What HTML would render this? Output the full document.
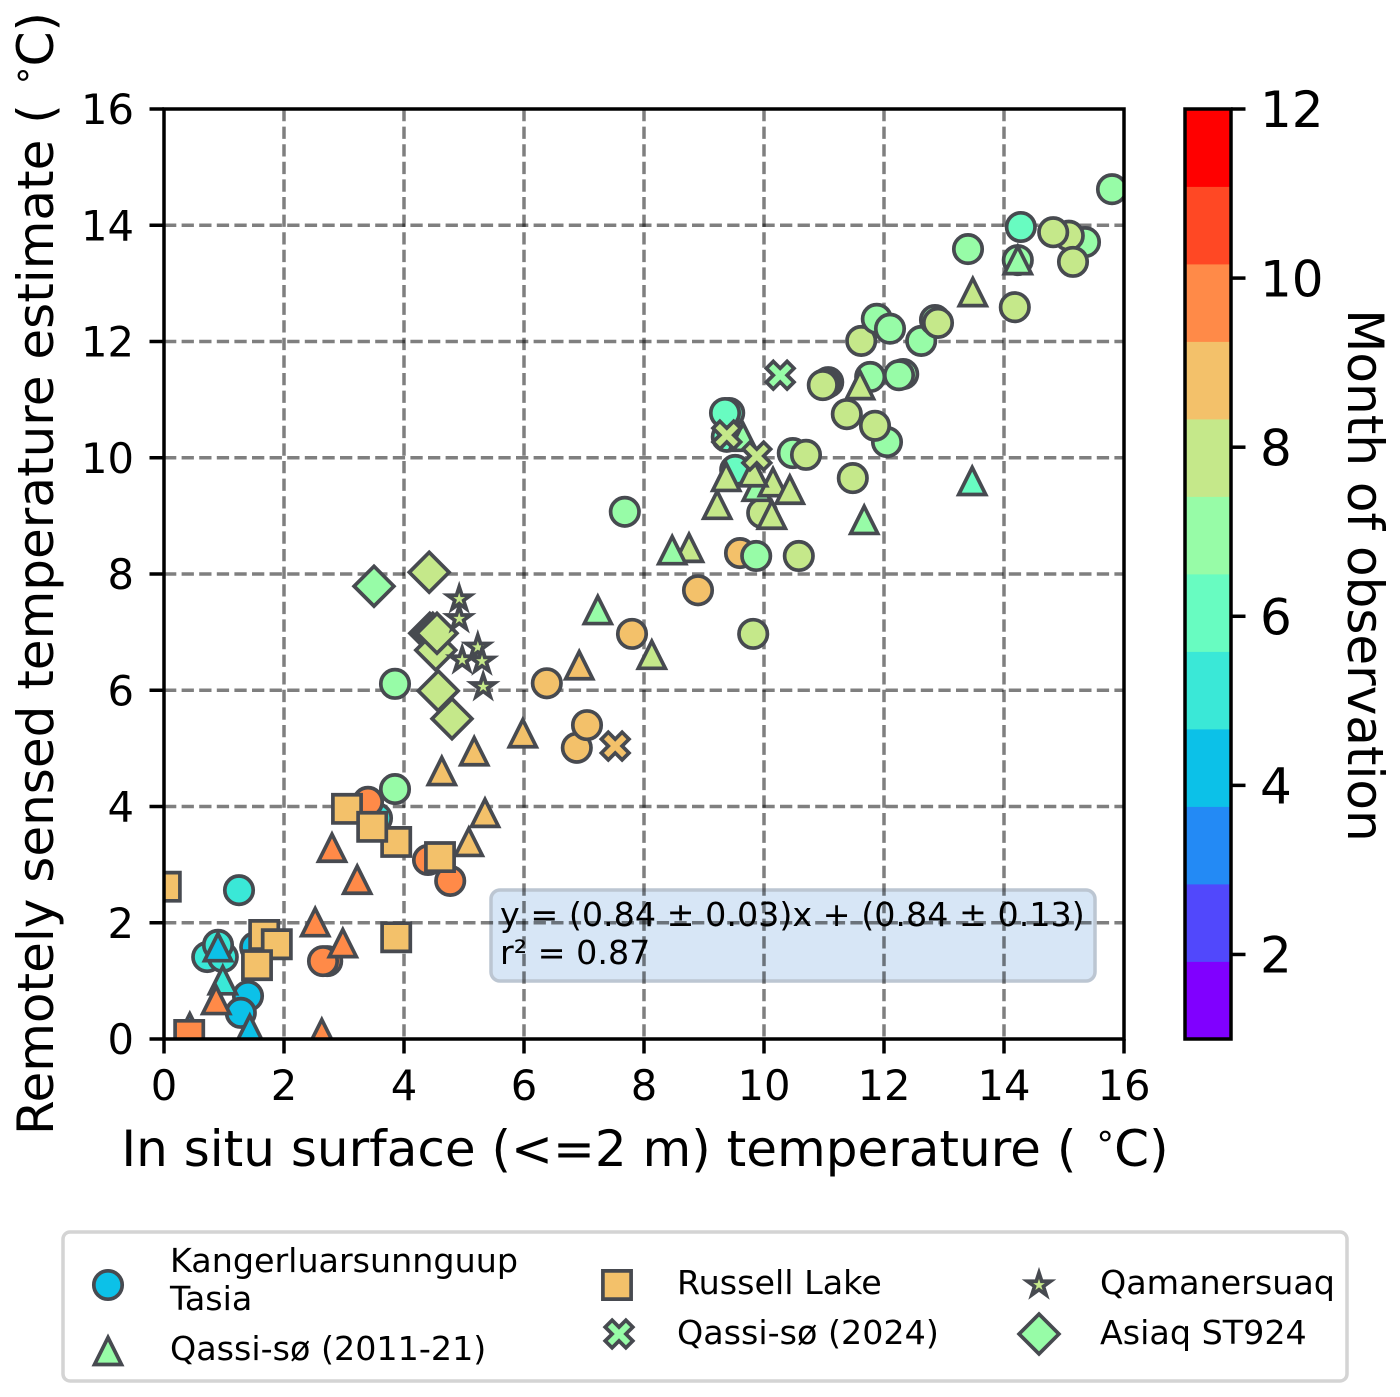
<!DOCTYPE html>
<html lang="en">
<head>
<meta charset="utf-8">
<title>Remotely sensed vs in situ surface temperature</title>
<style>
html,body{margin:0;padding:0;background:#fff;}
svg{display:block;}
text{font-family:"DejaVu Sans","Liberation Sans",sans-serif;fill:#000;}
</style>
</head>
<body>
<svg id="chart" xmlns="http://www.w3.org/2000/svg" width="1400" height="1397" viewBox="0 0 1400 1397">
  <defs>
    <clipPath id="plot-clip"><rect x="164" y="109" width="960" height="930"></rect></clipPath>
  </defs>
  <rect x="491" y="890" width="604" height="91" rx="9" ry="9" fill="#d7e6f6" stroke="#bcc6d2" stroke-width="3.5"></rect>
  <g id="grid"></g>
  <g id="marks" clip-path="url(#plot-clip)"></g>
  <rect x="164" y="109" width="960" height="930" fill="none" stroke="#000" stroke-width="3.5"></rect>
  <g id="x-axis"></g>
  <g id="y-axis"></g>
  <text x="500" y="926" font-size="33.33">y = (0.84 ± 0.03)x + (0.84 ± 0.13)</text>
  <text x="500" y="964" font-size="33.33">r² = 0.87</text>
  <text x="645" y="1166" font-size="50" text-anchor="middle">In situ surface (&lt;=2 m) temperature ( <tspan dy="-19" dx="2" font-size="35">∘</tspan><tspan dy="19" dx="-2">C)</tspan></text>
  <text transform="translate(53,573.5) rotate(-90)" font-size="50" text-anchor="middle">Remotely sensed temperature estimate ( <tspan dy="-19" dx="2" font-size="35">∘</tspan><tspan dy="19" dx="-2">C)</tspan></text>
  <g id="colorbar"></g>
  <text transform="translate(1348,575.5) rotate(90)" font-size="50" text-anchor="middle">Month of observation</text>
  <g id="legend">
    <rect x="63" y="1232" width="1284" height="149" rx="7" ry="7" fill="#fff" stroke="#d4d4d4" stroke-width="3.5"></rect>
    <text x="170" y="1272" font-size="33.33">Kangerluarsunnguup</text>
    <text x="170" y="1310" font-size="33.33">Tasia</text>
    <text x="170" y="1360" font-size="33.33">Qassi-sø (2011-21)</text>
    <text x="677" y="1294" font-size="33.33">Russell Lake</text>
    <text x="677" y="1344" font-size="33.33">Qassi-sø (2024)</text>
    <text x="1100" y="1294" font-size="33.33">Qamanersuaq</text>
    <text x="1100" y="1344" font-size="33.33">Asiaq ST924</text>
  </g>
</svg>
<script>
// Axis ticks
const xTicks = [0, 2, 4, 6, 8, 10, 12, 14, 16];
const yTicks = [0, 2, 4, 6, 8, 10, 12, 14, 16];
const colorbarTicks = [2, 4, 6, 8, 10, 12];
const monthLevels = [1, 2, 3, 4, 5, 6, 7, 8, 9, 10, 11, 12];

// Kangerluarsunnguup Tasia and similar circle observations
const circleX = [1.25, 0.72, 0.98, 0.90, 1.52, 1.40, 1.28, 2.72, 2.65, 3.55, 3.40, 3.85, 4.40, 4.77, 3.85, 6.38, 7.80, 6.88, 7.05, 7.68, 8.90, 9.60, 9.87, 10.58, 9.82, 9.97, 9.52, 9.38, 9.42, 9.35, 10.48, 10.70, 11.48, 12.05, 11.85, 11.38, 11.07, 11.02, 10.98, 11.77, 12.32, 12.25, 11.62, 11.88, 12.10, 12.62, 12.85, 12.90, 14.18, 13.40, 14.23, 14.28, 15.35, 15.08, 15.15, 14.82, 15.80];
const circleY = [2.56, 1.41, 1.41, 1.62, 1.58, 0.74, 0.45, 1.34, 1.34, 3.80, 4.08, 4.30, 3.08, 2.72, 6.11, 6.12, 6.97, 5.01, 5.40, 9.07, 7.72, 8.36, 8.31, 8.31, 6.97, 9.05, 9.79, 10.36, 10.77, 10.77, 10.08, 10.05, 9.65, 10.27, 10.55, 10.75, 11.30, 11.27, 11.25, 11.39, 11.44, 11.42, 12.01, 12.39, 12.22, 12.01, 12.37, 12.32, 12.59, 13.59, 13.40, 13.97, 13.71, 13.82, 13.37, 13.88, 14.62];
const circleMonth = [5, 5, 5, 5, 4, 4, 4, 10, 10, 5, 10, 7, 10, 10, 7, 9, 9, 9, 9, 7, 9, 9, 7, 8, 8, 8, 6, 6, 6, 6, 7, 8, 8, 7, 8, 8, 6, 6, 8, 7, 7, 7, 8, 7, 7, 7, 7, 8, 8, 7, 7, 6, 7, 8, 8, 8, 7];

// Qassi-so (2011-21)
const triangleX = [0.43, 0.98, 0.90, 0.87, 1.43, 2.63, 2.80, 3.22, 2.52, 2.98, 4.63, 5.35, 5.08, 5.17, 5.98, 6.92, 7.23, 8.13, 8.75, 8.47, 9.22, 9.65, 9.37, 9.88, 10.15, 9.82, 10.43, 10.13, 11.67, 13.47, 11.60, 13.48, 14.23];
const triangleY = [0.20, 1.01, 1.58, 0.67, 0.17, 0.10, 3.29, 2.74, 2.01, 1.65, 4.61, 3.89, 3.39, 4.95, 5.26, 6.43, 7.38, 6.61, 8.45, 8.41, 9.19, 10.36, 9.67, 9.50, 9.58, 9.75, 9.45, 9.02, 8.93, 9.60, 11.25, 12.85, 13.40];
const triangleMonth = [3, 5, 4, 10, 4, 10, 10, 10, 10, 10, 9, 9, 9, 9, 9, 9, 7, 8, 8, 7, 8, 7, 8, 7, 8, 8, 8, 8, 7, 6, 8, 8, 7];

// Russell Lake
const squareX = [0.03, 0.42, 1.67, 1.88, 1.55, 3.87, 3.87, 3.05, 3.47, 4.60];
const squareY = [2.62, 0.07, 1.79, 1.63, 1.27, 1.75, 3.39, 3.96, 3.65, 3.13];
const squareMonth = [9, 10, 9, 9, 9, 9, 9, 9, 9, 9];

// Qassi-so (2024)
const crossX = [7.52, 10.27, 9.38, 9.88];
const crossY = [5.04, 11.42, 10.39, 10.03];
const crossMonth = [9, 7, 8, 8];

// Asiaq ST924
const diamondX = [3.50, 4.42, 4.43, 4.48, 4.53, 4.55, 4.57, 4.80];
const diamondY = [7.79, 8.03, 6.98, 6.98, 6.69, 6.98, 5.99, 5.51];
const diamondMonth = [7, 8, 8, 8, 8, 8, 8, 8];

// Qamanersuaq
const starX = [4.92, 4.92, 5.23, 4.97, 5.30, 5.32];
const starY = [7.57, 7.23, 6.74, 6.52, 6.50, 6.06];
const starMonth = [8, 8, 8, 8, 8, 8];

const SVG_NS = 'http://www.w3.org/2000/svg';
const EDGE = '#474a50';
const EDGE_WIDTH = 3.7;

function xScale(v) { return 164 + (v - 0) * 960 / 16; }
function yScale(v) { return 1039 - (v - 0) * 930 / 16; }
function colorbarScale(v) { return 1039 - (v - 1) * 930 / 11; }

// matplotlib "rainbow" colormap sampled into 12 discrete months
function monthColor(month) {
  const level = Math.round(month) - 1;
  const t = level / 11;
  const r = Math.abs(2 * t - 0.5);
  const g = Math.sin(Math.PI * t);
  const b = Math.cos(Math.PI * t / 2);
  const hex = function (c) {
    return Math.round(Math.min(1, c) * 255).toString(16).padStart(2, '0');
  };
  return '#' + hex(r) + hex(g) + hex(b);
}

function make(tag, attrs, parent) {
  const el = document.createElementNS(SVG_NS, tag);
  for (const key in attrs) { el.setAttribute(key, attrs[key]); }
  parent.appendChild(el);
  return el;
}

function trianglePath(cx, cy) {
  const h = 13.5;
  return 'M' + cx + ' ' + (cy - h) + 'L' + (cx + h) + ' ' + (cy + h) + 'L' + (cx - h) + ' ' + (cy + h) + 'Z';
}
function squarePath(cx, cy) {
  const h = 14.1;
  return 'M' + (cx - h) + ' ' + (cy - h) + 'H' + (cx + h) + 'V' + (cy + h) + 'H' + (cx - h) + 'Z';
}
function diamondPath(cx, cy) {
  const h = 19.9;
  return 'M' + cx + ' ' + (cy - h) + 'L' + (cx + h) + ' ' + cy + 'L' + cx + ' ' + (cy + h) + 'L' + (cx - h) + ' ' + cy + 'Z';
}
function crossPath(cx, cy) {
  const u = 13.8;
  const shape = [[-0.5, -1], [0, -0.5], [0.5, -1], [1, -0.5], [0.5, 0], [1, 0.5], [0.5, 1], [0, 0.5], [-0.5, 1], [-1, 0.5], [-0.5, 0], [-1, -0.5]];
  return shape.map(function (p, i) {
    return (i ? 'L' : 'M') + (cx + p[0] * u) + ' ' + (cy + p[1] * u);
  }).join('') + 'Z';
}
function starPath(cx, cy) {
  const outer = 12.2;
  const inner = outer * 0.381966;
  let d = '';
  for (let i = 0; i < 10; i++) {
    const r = i % 2 ? inner : outer;
    const a = -Math.PI / 2 + i * Math.PI / 5;
    d += (i ? 'L' : 'M') + (cx + r * Math.cos(a)) + ' ' + (cy + r * Math.sin(a));
  }
  return d + 'Z';
}

function drawCircle(parent, cx, cy, month) {
  return make('circle', { cx: cx, cy: cy, r: 14.2, fill: monthColor(month), stroke: EDGE, 'stroke-width': EDGE_WIDTH }, parent);
}
function drawShape(parent, builder, cx, cy, month) {
  return make('path', { d: builder(cx, cy), fill: monthColor(month), stroke: EDGE, 'stroke-width': EDGE_WIDTH, 'stroke-linejoin': 'miter', 'stroke-miterlimit': 10 }, parent);
}

// Grid
const gridGroup = document.getElementById('grid');
xTicks.slice(1, -1).forEach(function (v) {
  const line = make('line', { x1: xScale(v), x2: xScale(v), y1: yScale(16), y2: yScale(0), stroke: '#000', 'stroke-opacity': 0.5, 'stroke-width': 3.5, 'stroke-dasharray': '12.3 5.3' }, gridGroup);
  
  
});
yTicks.slice(1, -1).forEach(function (v) {
  const line = make('line', { x1: xScale(0), x2: xScale(16), y1: yScale(v), y2: yScale(v), stroke: '#000', 'stroke-opacity': 0.5, 'stroke-width': 3.5, 'stroke-dasharray': '12.3 5.3' }, gridGroup);
  
  
});

// Axis ticks and labels
const xAxisGroup = document.getElementById('x-axis');
xTicks.forEach(function (v) {
  const tick = make('line', { x1: xScale(v), x2: xScale(v), y1: yScale(0), y2: yScale(0) + 14.5, stroke: '#000', 'stroke-width': 3.5 }, xAxisGroup);
  
  
  const label = make('text', { x: xScale(v), y: 1100, 'font-size': 41.67, 'text-anchor': 'middle' }, xAxisGroup);
  label.textContent = String(v);
  
  
});
const yAxisGroup = document.getElementById('y-axis');
yTicks.forEach(function (v) {
  const tick = make('line', { x1: xScale(0), x2: xScale(0) - 14.5, y1: yScale(v), y2: yScale(v), stroke: '#000', 'stroke-width': 3.5 }, yAxisGroup);
  
  
  const label = make('text', { x: 134, y: yScale(v) + 15.2, 'font-size': 41.67, 'text-anchor': 'end' }, yAxisGroup);
  label.textContent = String(v);
  
  
});

// Marks
const marks = document.getElementById('marks');
circleX.forEach(function (v, i) {
  const el = drawCircle(marks, xScale(v), yScale(circleY[i]), circleMonth[i]);
  
  
});
triangleX.forEach(function (v, i) {
  const el = drawShape(marks, trianglePath, xScale(v), yScale(triangleY[i]), triangleMonth[i]);
  
  
});
squareX.forEach(function (v, i) {
  const el = drawShape(marks, squarePath, xScale(v), yScale(squareY[i]), squareMonth[i]);
  
  
});
crossX.forEach(function (v, i) {
  const el = drawShape(marks, crossPath, xScale(v), yScale(crossY[i]), crossMonth[i]);
  
  
});
diamondX.forEach(function (v, i) {
  const el = drawShape(marks, diamondPath, xScale(v), yScale(diamondY[i]), diamondMonth[i]);
  
  
});
starX.forEach(function (v, i) {
  const el = drawShape(marks, starPath, xScale(v), yScale(starY[i]), starMonth[i]);
  
  
});

// Colorbar
const colorbar = document.getElementById('colorbar');
monthLevels.forEach(function (m, i) {
  const top = 109 + (monthLevels.length - 1 - i) * 930 / monthLevels.length;
  const seg = make('rect', { x: 1185, y: top, width: 46, height: 930 / monthLevels.length + 0.4, fill: monthColor(m) }, colorbar);
  
  
});
const colorbarFrame = make('rect', { x: 1185, y: 109, width: 46, height: 930, fill: 'none', stroke: '#000', 'stroke-width': 3.5 }, colorbar);


colorbarTicks.forEach(function (v) {
  const tick = make('line', { x1: 1231, x2: 1245.5, y1: colorbarScale(v), y2: colorbarScale(v), stroke: '#000', 'stroke-width': 3.5 }, colorbar);
  
  
  const label = make('text', { x: 1260, y: colorbarScale(v) + 18.2, 'font-size': 50 }, colorbar);
  label.textContent = String(v);
  
  
});

// Legend markers
const legend = document.getElementById('legend');
const legendCircle = drawCircle(legend, 108, 1285, 4);


const legendTriangle = drawShape(legend, trianglePath, 108, 1351, 7);


const legendSquare = drawShape(legend, squarePath, 617, 1285, 9);


const legendCross = drawShape(legend, crossPath, 619, 1334, 7);


const legendStar = drawShape(legend, starPath, 1039, 1285, 8);


const legendDiamond = drawShape(legend, diamondPath, 1039, 1334, 7);


</script>
</body>
</html>
